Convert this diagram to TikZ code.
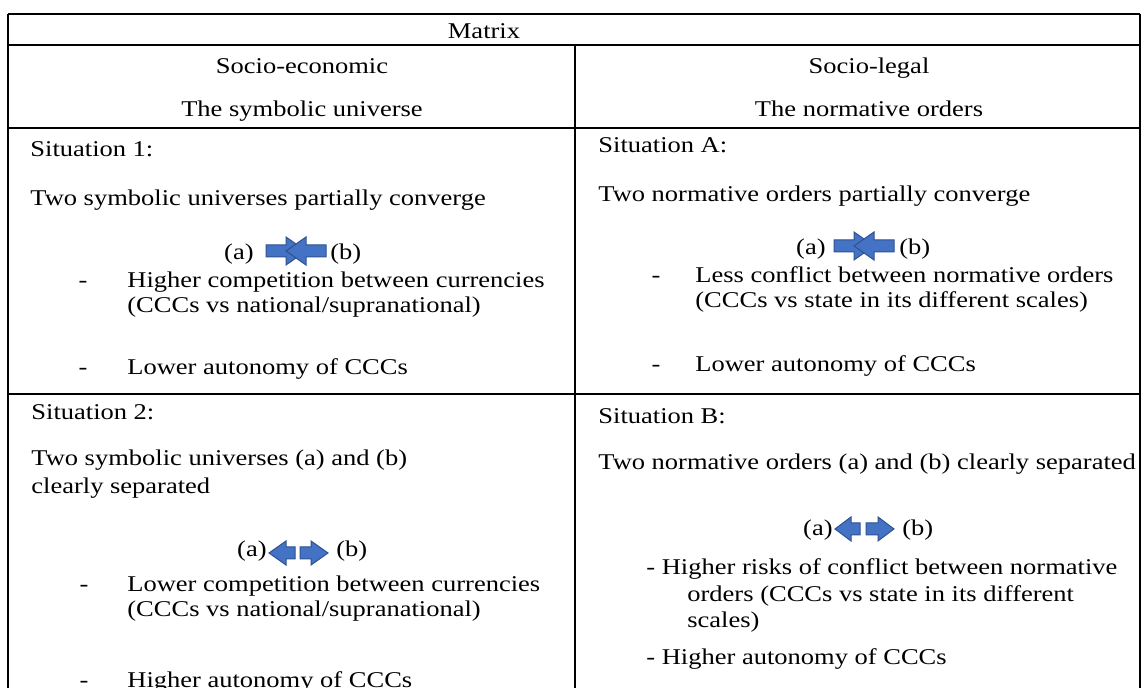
\documentclass[tikz,border=0pt]{standalone}
\usepackage{fontspec}
\setmainfont{Liberation Serif}
\usepackage{graphicx}
\newcommand{\sq}[1]{\scalebox{1}[0.85]{#1}}
\definecolor{arrfill}{HTML}{4472C4}
\definecolor{arrline}{HTML}{2F528F}
% body end, head base, tip, centre y, head half height, body half height
\newcommand{\myarr}[6]{%
  \filldraw[blockarrow] (#1,#4-#6) -- (#2,#4-#6) -- (#2,#4-#5) -- (#3,#4)
    -- (#2,#4+#5) -- (#2,#4+#6) -- (#1,#4+#6) -- cycle;}
\begin{document}
\begin{tikzpicture}[x=0.5pt,y=-0.5pt,
  txt/.style={inner sep=0pt, anchor=base west, font=\fontsize{13.25}{15}\selectfont},
  ctxt/.style={txt, anchor=base},
  etxt/.style={txt, anchor=base east},
  grid/.style={line width=0.7pt, black},
  blockarrow/.style={fill=arrfill, draw=arrline, line width=0.5pt, line join=miter}]
\fill[white] (0,0) rectangle (1142,688);
\useasboundingbox (0,0) rectangle (1142,688);
\clip (0,0) rectangle (1142,688);

% table rules
\draw[grid] (8,14) -- (1140,14);
\draw[grid] (8,45) -- (1140,45);
\draw[grid] (8,128) -- (1140,128);
\draw[grid] (8,394) -- (1140,394);
\draw[grid] (8,14) -- (8,690);
\draw[grid] (1140,14) -- (1140,690);
\draw[grid] (575,45) -- (575,690);

% header
\node[ctxt] (matrix) at (484,39) {\sq{Matrix}};
\node[ctxt] (hl1) at (302,74) {\sq{Socio-economic}};
\node[ctxt] (hl2) at (302,117) {\sq{The symbolic universe}};
\node[ctxt] (hr1) at (869,74) {\sq{Socio-legal}};
\node[ctxt] (hr2) at (869,117) {\sq{The normative orders}};

% situation 1
\node[txt] (s1) at (30,157) {\sq{Situation 1:}};
\node[txt] (s1t) at (30,206) {\sq{Two symbolic universes partially converge}};
\node[etxt] (s1a) at (254,260) {\sq{(a)}};
\myarr{266}{286}{306}{251}{14}{6}
\myarr{326}{306}{286}{251}{14}{6}
\node[txt] (s1b) at (330,260) {\sq{(b)}};
\node[ctxt] (s1d1) at (83,288) {\sq{-}};
\node[txt] (s1i1) at (127,288) {\sq{Higher competition between currencies}};
\node[txt] (s1i1b) at (127,313) {\sq{(CCCs vs national/supranational)}};
\node[ctxt] (s1d2) at (83,375) {\sq{-}};
\node[txt] (s1i2) at (127,375) {\sq{Lower autonomy of CCCs}};

% situation A
\node[txt] (sA) at (598,153) {\sq{Situation A:}};
\node[txt] (sAt) at (598,202) {\sq{Two normative orders partially converge}};
\node[etxt] (sAa) at (826,255) {\sq{(a)}};
\myarr{834}{854}{874}{246}{14}{6}
\myarr{894}{874}{854}{246}{14}{6}
\node[txt] (sAb) at (899,255) {\sq{(b)}};
\node[ctxt] (sAd1) at (656,283) {\sq{-}};
\node[txt] (sAi1) at (695,283) {\sq{Less conflict between normative orders}};
\node[txt] (sAi1b) at (695,308) {\sq{(CCCs vs state in its different scales)}};
\node[ctxt] (sAd2) at (656,372) {\sq{-}};
\node[txt] (sAi2) at (695,372) {\sq{Lower autonomy of CCCs}};

% situation 2
\node[txt] (s2) at (31,420) {\sq{Situation 2:}};
\node[txt] (s2t) at (31,466) {\sq{Two symbolic universes (a) and (b)}};
\node[txt] (s2t2) at (31,494) {\sq{clearly separated}};
\node[etxt] (s2a) at (267,557) {\sq{(a)}};
\myarr{295}{286}{269}{553}{12}{6}
\myarr{300}{311}{328}{553}{12}{6}
\node[txt] (s2b) at (336,557) {\sq{(b)}};
\node[ctxt] (s2d1) at (84,592) {\sq{-}};
\node[txt] (s2i1) at (127,592) {\sq{Lower competition between currencies}};
\node[txt] (s2i1b) at (127,617) {\sq{(CCCs vs national/supranational)}};
\node[ctxt] (s2d2) at (84,688) {\sq{-}};
\node[txt] (s2i2) at (127,688) {\sq{Higher autonomy of CCCs}};

% situation B
\node[txt] (sB) at (598,424) {\sq{Situation B:}};
\node[txt] (sBt) at (598,470) {\sq{Two normative orders (a) and (b) clearly separated}};
\node[etxt] (sBa) at (833,536) {\sq{(a)}};
\myarr{860}{851}{835}{529}{12}{6}
\myarr{866}{878}{894}{529}{12}{6}
\node[txt] (sBb) at (902,536) {\sq{(b)}};
\node[txt] (sBi1) at (646,575) {\sq{- Higher risks of conflict between normative}};
\node[txt] (sBi1b) at (687,602) {\sq{orders (CCCs vs state in its different}};
\node[txt] (sBi1c) at (687,628) {\sq{scales)}};
\node[txt] (sBi2) at (646,665) {\sq{- Higher autonomy of CCCs}};
\end{tikzpicture}
\end{document}
